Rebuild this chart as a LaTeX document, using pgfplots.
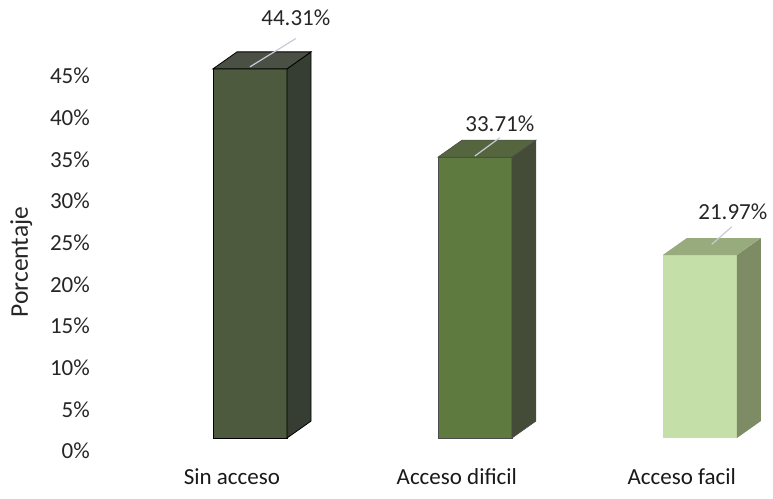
\documentclass[border=0pt]{standalone}
\usepackage{pgfplots}
\pgfplotsset{compat=1.18}
\usepackage{pgfplotstable}
\usepackage{fontspec}
\setmainfont{Carlito}
\usetikzlibrary{calc}

\definecolor{fA}{HTML}{4D5A3E}\definecolor{sA}{HTML}{363D33}\definecolor{tA}{HTML}{4A5043}
\definecolor{fB}{HTML}{5F7A3E}\definecolor{sB}{HTML}{444C38}\definecolor{tB}{HTML}{55663F}
\definecolor{fC}{HTML}{C5DFA8}\definecolor{sC}{HTML}{7E8C66}\definecolor{tC}{HTML}{98AB7C}
\definecolor{lead}{HTML}{C9C9DA}

% x = category position, v = percentage, lx/ly = label position
\pgfplotstableread{
x  v      lx     ly
0  44.31  0.284  51.96
1  33.71  1.191  39.24
2  21.97  2.227  28.68
}\datatab

\begin{document}
\fontsize{23}{27}\selectfont
\begin{tikzpicture}
\begin{axis}[
  name=ax,
  scale only axis,
  width=668pt, height=433.3pt,
  xmin=-0.6, xmax=2.37,
  ymin=0, ymax=52,
  clip=false,
  axis line style={draw=none},
  major tick length=0pt,
  ytick={0,5,...,45},
  yticklabel={\pgfmathprintnumber{\tick}\%},
  /pgf/number format/assume math mode=true,
  yticklabel style={anchor=east, inner sep=0pt, xshift=-7pt, text=black!85},
  xtick={0,1,2},
  xticklabels={Sin acceso, Acceso dificil, Acceso facil},
  xticklabel style={anchor=north, inner sep=0pt, yshift=-17pt, text=black!90},
  ylabel={Porcentaje},
  ylabel style={at={(rel axis cs:0,0.436)}, anchor=south, yshift=57pt, text=black!85, font=\fontsize{25.5}{30}\selectfont},
  ybar stacked,
  bar width=0.329,
]
% invisible floor offset (3D perspective base)
\addplot[draw=none, fill=none, forget plot] coordinates {(0.08,1.55) (1.08,1.55) (2.08,1.55)};
% front faces
\addplot[draw=black, line width=0.8pt, fill=fA, forget plot] coordinates {(0.08,44.31) (1.08,0) (2.08,0)};
\addplot[draw=black!70, line width=0.6pt, fill=fB, forget plot] coordinates {(0.08,0) (1.08,33.71) (2.08,0)};
\addplot[draw=none, fill=fC, forget plot] coordinates {(0.08,0) (1.08,0) (2.08,21.97)};
\end{axis}
\begin{axis}[
  scale only axis,
  width=668pt, height=433.3pt,
  xmin=-0.6, xmax=2.37,
  ymin=0, ymax=52,
  clip=false,
  hide axis,
]
% side faces
\addplot[draw=black, line width=0.8pt, fill=sA] coordinates {(0.2445,1.55) (0.3515,3.59) (0.3515,47.90) (0.2445,45.86)} -- cycle;
\addplot[draw=black!70, line width=0.6pt, fill=sB] coordinates {(1.2445,1.55) (1.3515,3.59) (1.3515,37.30) (1.2445,35.26)} -- cycle;
\addplot[draw=none, fill=sC] coordinates {(2.2445,1.55) (2.3515,3.59) (2.3515,25.56) (2.2445,23.52)} -- cycle;
% top faces
\addplot[draw=black, line width=0.8pt, fill=tA] coordinates {(-0.0845,45.86) (0.2445,45.86) (0.3515,47.90) (0.0225,47.90)} -- cycle;
\addplot[draw=black!70, line width=0.6pt, fill=tB] coordinates {(0.9155,35.26) (1.2445,35.26) (1.3515,37.30) (1.0225,37.30)} -- cycle;
\addplot[draw=none, fill=tC] coordinates {(1.9155,23.52) (2.2445,23.52) (2.3515,25.56) (2.0225,25.56)} -- cycle;
% leader lines
\addplot[lead, line width=1.2pt] coordinates {(0.080,46.1) (0.284,49.5)};
\addplot[lead, line width=1.2pt] coordinates {(1.080,35.4) (1.191,37.6)};
\addplot[lead, line width=1.2pt] coordinates {(2.133,24.8) (2.222,26.9)};
% value labels
\addplot[draw=none, mark=none, nodes near coords={\pgfmathprintnumber[fixed,fixed zerofill,precision=2]{\pgfplotspointmeta}\%},
  nodes near coords style={anchor=center, inner sep=0pt, text=black!85, /pgf/number format/assume math mode=true},
  point meta=explicit]
  table[x=lx, y=ly, meta=v] {\datatab};
\end{axis}
\pgfresetboundingbox
\path ($(ax.south west)+(-97pt,-47pt)$) rectangle ($(ax.north east)+(8pt,17.7pt)$);
\end{tikzpicture}
\end{document}
